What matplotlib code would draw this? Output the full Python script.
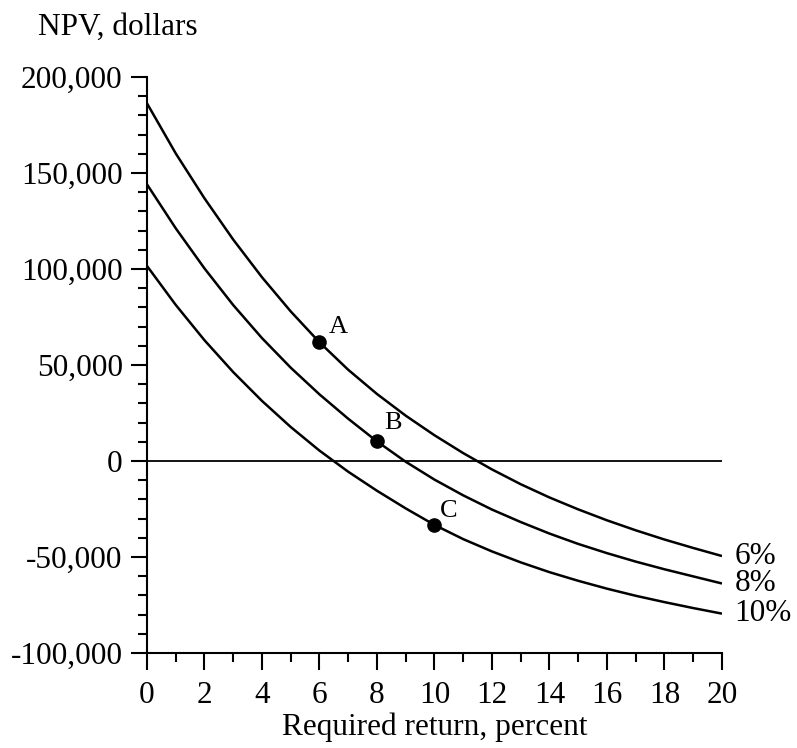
import numpy as np
import matplotlib
matplotlib.use("Agg")
import matplotlib.pyplot as plt
from matplotlib.ticker import MultipleLocator, FuncFormatter

plt.rcParams["font.family"] = "Liberation Serif"
plt.rcParams["font.size"] = 22.5

# required return, percent
rates = [0, 1, 2, 3, 4, 5, 6, 7, 8, 9, 10,
         11, 12, 13, 14, 15, 16, 17, 18, 19, 20]

# NPV profiles (dollars)
npv_6 = [186300, 160200, 136800, 115300, 95700, 77900, 61800, 47500, 34900, 23600, 13400,
         4100, -4400, -12100, -19000, -25200, -30900, -36100, -40900, -45300, -49500]
npv_8 = [144100, 121200, 100300, 81200, 64000, 48600, 34700, 22000, 10200, -400, -9700,
         -17900, -25300, -31800, -37800, -43200, -48000, -52400, -56400, -60100, -63800]
npv_10 = [101600, 81300, 62900, 46300, 31300, 17700, 5400, -5600, -15500, -24700, -33300,
          -40700, -47100, -52800, -57900, -62400, -66500, -70200, -73500, -76600, -79500]
curve_labels = ["6%", "8%", "10%"]

# highlighted points
point_names = ["A", "B", "C"]
point_x = [6, 8, 10]
point_y = [61800, 10200, -33300]


def main():
    fig = plt.figure(figsize=(7.97, 7.48), dpi=100)
    ax = fig.add_axes([0.1844, 0.1270, 0.9059 - 0.1844, 0.8971 - 0.1270])

    for vals, lab in zip([npv_6, npv_8, npv_10], curve_labels):
        ax.plot(rates, vals, color='black', linewidth=1.8, solid_capstyle='butt')
        ax.annotate(lab, (rates[-1], vals[-1]), xytext=(9, 0),
                    textcoords='offset points', va='center', ha='left',
                    annotation_clip=False)

    ax.axhline(0, color='black', linewidth=1.3)

    ax.plot(point_x, point_y, 'o', color='black', markersize=9.5, zorder=5)
    offsets = [(7, 3), (5, 5), (4, 2)]
    for name, px, py, off in zip(point_names, point_x, point_y, offsets):
        ax.annotate(name, (px, py), xytext=off, textcoords='offset points',
                    ha='left', va='bottom', fontsize=19)

    ax.set_xlim(0, 20)
    ax.set_ylim(-100000, 200000)
    ax.spines['top'].set_visible(False)
    ax.spines['right'].set_visible(False)
    for s in ['left', 'bottom']:
        ax.spines[s].set_linewidth(1.5)

    ax.xaxis.set_major_locator(MultipleLocator(2))
    ax.xaxis.set_minor_locator(MultipleLocator(1))
    ax.yaxis.set_major_locator(MultipleLocator(50000))
    ax.yaxis.set_minor_locator(MultipleLocator(10000))
    ax.yaxis.set_major_formatter(FuncFormatter(lambda v, p: f"{v:,.0f}"))

    ax.tick_params(which='major', direction='out', length=11.5, width=1.5, pad=6)
    ax.tick_params(which='minor', direction='out', length=6.5, width=1.5)
    ax.tick_params(axis='x', which='major', length=12, pad=8)

    ax.set_xlabel('Required return, percent', labelpad=2)
    fig.text(38 / 797, 1 - 35 / 748, 'NPV, dollars', ha='left', va='baseline')

    fig.savefig('out.png', dpi=100)


if __name__ == "__main__":
    main()
